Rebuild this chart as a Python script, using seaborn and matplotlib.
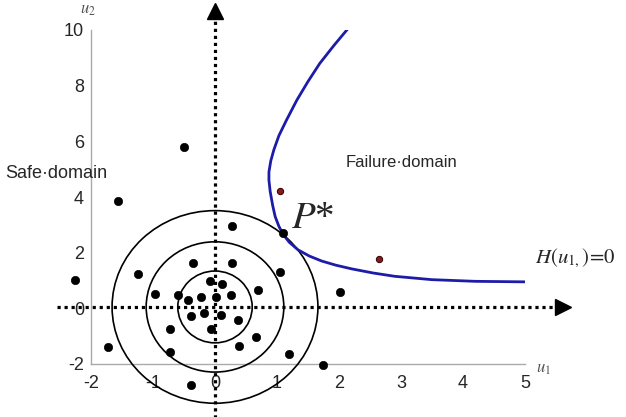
import matplotlib
matplotlib.use("Agg")
import matplotlib.pyplot as plt
from matplotlib.patches import Ellipse
import seaborn as sns
import pandas as pd

# sample points (u1, u2)
u1_pts = [-1.57, 0.28, -0.35, 0.28, -1.24, -2.26, 1.05, -0.08, 0.12, 0.70,
          -0.96, -0.60, -0.43, -0.22, 0.02, 0.26, -0.38, -0.18, 0.10, 0.37,
          -0.06, -0.72, 0.66, 0.39, -0.72, -1.73, 1.20, -0.39, 1.09, -0.50,
          2.02, 1.74]
u2_pts = [3.85, 2.95, 1.64, 1.64, 1.22, 1.03, 1.31, 1.00, 0.88, 0.67,
          0.52, 0.48, 0.29, 0.42, 0.42, 0.47, -0.29, -0.15, -0.24, -0.41,
          -0.73, -0.76, -1.03, -1.36, -1.57, -1.39, -1.64, -2.75, 2.69, 5.79,
          0.60, -2.04]
# points in the failure domain
u1_fail = [1.05, 2.64]
u2_fail = [4.22, 1.77]

# limit state curve H(u)=0
curve_u1 = [2.16, 1.92, 1.69, 1.50, 1.32, 1.15, 1.03, 0.95, 0.90, 0.87,
            0.87, 0.89, 0.93, 0.97, 1.03, 1.10, 1.20, 1.34, 1.52, 1.72,
            1.95, 2.20, 2.55, 2.90, 3.50, 4.20, 5.06]
curve_u2 = [10.09, 9.45, 8.80, 8.15, 7.48, 6.75, 6.20, 5.70, 5.30, 4.90,
            4.60, 4.20, 3.70, 3.30, 2.95, 2.65, 2.37, 2.10, 1.88, 1.70,
            1.55, 1.42, 1.27, 1.15, 1.03, 0.97, 0.95]

# concentric rings (half widths in u1, u2)
ring_rx = [0.60, 1.11, 1.66]
ring_ry = [1.29, 2.34, 3.46]

x_ticks = [-2, -1, 0, 1, 2, 3, 4, 5]
y_ticks = [-2, 0, 2, 4, 6, 8, 10]

sns.set_style("white")
plt.rcParams['font.family'] = ['Liberation Sans', 'DejaVu Sans']
plt.rcParams['mathtext.fontset'] = 'stix'
plt.rcParams['axes.unicode_minus'] = False

fig = plt.figure(figsize=(6.26, 4.17), dpi=100)
ax = fig.add_axes([91/626, 53/417, 434/626, 334/417])

pts = pd.DataFrame({"u1": u1_pts, "u2": u2_pts})
fail = pd.DataFrame({"u1": u1_fail, "u2": u2_fail})
curve = pd.DataFrame({"u1": curve_u1, "u2": curve_u2})

# dotted coordinate axes with arrow heads
ax.plot([-2.55, 5.6], [0.05, 0.05], color='black', lw=2.3,
        ls=(0, (1, 1.2)), clip_on=False, zorder=2)
ax.plot([5.62], [0.05], marker='>', ms=11, color='black', clip_on=False)
ax.plot([0, 0], [-3.95, 10.6], color='black', lw=2.3,
        ls=(0, (1, 1.2)), clip_on=False, zorder=2)
ax.plot([0], [10.68], marker='^', ms=11, color='black', clip_on=False)

for rx, ry in zip(ring_rx, ring_ry):
    ax.add_patch(Ellipse((0, 0.05), 2 * rx, 2 * ry, fill=False,
                         edgecolor='black', lw=1.2, clip_on=False, zorder=3))

sns.lineplot(data=curve, x="u1", y="u2", sort=False, estimator=None,
             color='#1c1ca8', lw=2.0, ax=ax, zorder=4)
sns.scatterplot(data=pts, x="u1", y="u2", color='black', s=36,
                edgecolor='black', ax=ax, zorder=5, clip_on=False)
sns.scatterplot(data=fail, x="u1", y="u2", color='#8b1a1a', s=20,
                edgecolor='#3a0808', linewidth=0.8, ax=ax, zorder=5)

ax.set_xlim(-2, 5)
ax.set_ylim(-2, 10)
ax.set_xticks(x_ticks)
ax.set_yticks(y_ticks)
ax.set_xlabel("")
ax.set_ylabel("")
ax.tick_params(direction='in', length=4, width=1, color='#999999',
               labelsize=13)
ax.tick_params(axis='x', pad=8)
ax.tick_params(axis='y', pad=5)
for s in ['top', 'right']:
    ax.spines[s].set_visible(False)
for s in ['left', 'bottom']:
    ax.spines[s].set_color('#aaaaaa')
    ax.spines[s].set_linewidth(1)

ax.text(-2.05, 10.72, r"$u_2$", fontsize=12, color='#555555',
        ha='center', va='center', clip_on=False)
ax.text(5.3, -2.2, r"$u_1$", fontsize=12, color='#555555',
        ha='center', va='center', clip_on=False)
ax.text(-3.39, 4.85, "Safe·domain", fontsize=13, ha='left', va='center')
ax.text(2.1, 5.25, "Failure·domain", fontsize=12, ha='left', va='center')
ax.text(1.22, 2.87, r"$P$*", fontsize=28, ha='left', va='baseline',
        family='Liberation Serif')
ax.text(5.16, 1.8, r"$H(u_{1,})\!{=}\!0$", fontsize=15, ha='left',
        va='center', clip_on=False)

fig.savefig("out.png", dpi=100)
